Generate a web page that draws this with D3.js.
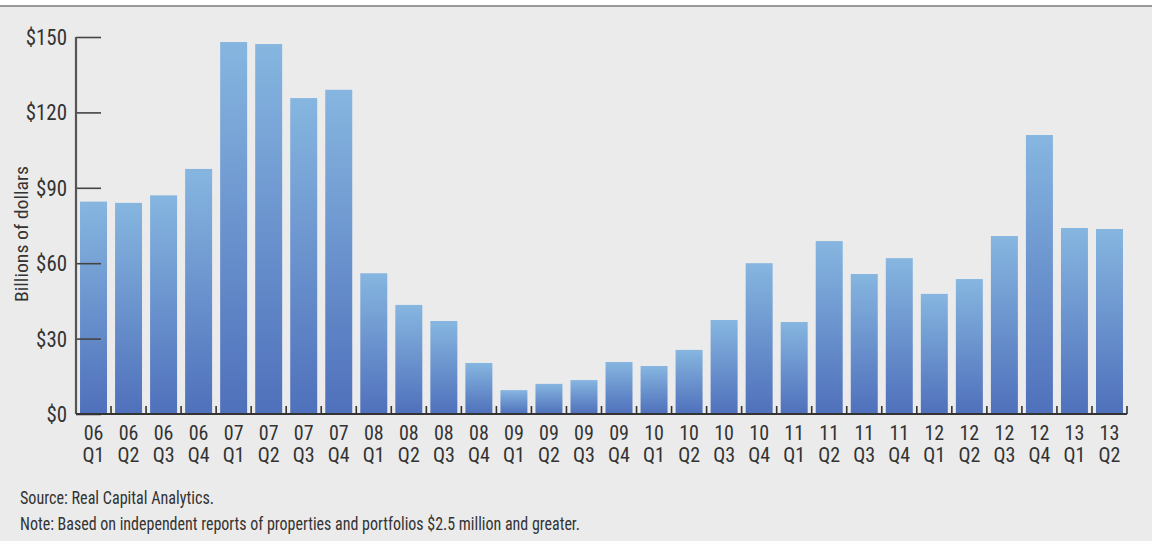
<!DOCTYPE html>
<html><head><meta charset="utf-8">
<script src="https://cdn.jsdelivr.net/npm/d3@7"></script>
<style>
html,body{margin:0;padding:0;background:#ebebeb;}
svg{display:block;}
text{font-family:"Liberation Sans Narrow","Roboto Condensed","Arial Narrow",Arial,sans-serif;fill:#333;}
</style></head>
<body>
<svg id="chart" width="1152" height="541"></svg>
<script>
const years = ["06","06","06","06","07","07","07","07","08","08","08","08","09","09","09","09","10","10","10","10","11","11","11","11","12","12","12","12","13","13"];
const quarters = ["Q1","Q2","Q3","Q4","Q1","Q2","Q3","Q4","Q1","Q2","Q3","Q4","Q1","Q2","Q3","Q4","Q1","Q2","Q3","Q4","Q1","Q2","Q3","Q4","Q1","Q2","Q3","Q4","Q1","Q2"];
const values = [84.5,84,87,97.5,148,147.2,125.7,129,56,43.4,37,20.3,9.5,12,13.5,20.7,19.1,25.5,37.4,60,36.6,68.8,55.7,62,47.8,53.7,70.8,111,74,73.6];
const yTicks = [0,30,60,90,120,150];
const yLabel = "Billions of dollars";
const notes = ["Source: Real Capital Analytics.","Note: Based on independent reports of properties and portfolios $2.5 million and greater."];

(function(){
const svg = d3.select("#chart");
const W = 1152, H = 541;
const mL = 76, mR = 1127, mT = 37, mB = 414;
svg.append("rect").attr("x",0).attr("y",0).attr("width",W).attr("height",6).attr("fill","#fff");
svg.append("line").attr("x1",0).attr("x2",W).attr("y1",6).attr("y2",6).attr("stroke","#9a9a9a").attr("stroke-width",2);

const cats = values.map((d,i)=>i);
const x = d3.scaleBand().domain(cats).range([mL,mR]).paddingInner(0.23).paddingOuter(0.115);
const y = d3.scaleLinear().domain([0,150]).range([mB,mT]);

const defs = svg.append("defs");
const g = defs.append("linearGradient").attr("id","barGrad").attr("x1",0).attr("y1",0).attr("x2",0).attr("y2",1);
g.append("stop").attr("offset","0%").attr("stop-color","#86b6e0");
g.append("stop").attr("offset","100%").attr("stop-color","#4f70bb");

svg.append("g").selectAll("rect").data(values).join("rect")
  .attr("x",(d,i)=>x(i)).attr("width",x.bandwidth())
  .attr("y",d=>y(d)).attr("height",d=>y(0)-y(d))
  .attr("fill","url(#barGrad)");

const yAxis = svg.append("g").attr("transform",`translate(${mL},0)`)
  .call(d3.axisRight(y).tickValues(yTicks).tickSize(25).tickFormat(""));
yAxis.select(".domain").remove();
yAxis.selectAll(".tick line").attr("stroke","#444").attr("stroke-width",1.6);
svg.append("line").attr("x1",mL).attr("x2",mL).attr("y1",mT).attr("y2",mB).attr("stroke","#555").attr("stroke-width",2.2);
svg.append("g").selectAll("text").data(yTicks).join("text")
  .attr("transform",d=>`translate(67,${y(d)}) scale(0.95,1)`)
  .attr("dy","0.36em").attr("text-anchor","end")
  .style("font-size","22px").text(d=>"$"+d);

svg.append("line").attr("x1",mL).attr("x2",mR).attr("y1",mB).attr("y2",mB).attr("stroke","#333").attr("stroke-width",2);
const step = x.step();
const bounds = d3.range(1,cats.length+1).map(i=>mL + i*step);
svg.append("g").selectAll("line").data(bounds).join("line")
  .attr("x1",d=>d).attr("x2",d=>d).attr("y1",mB).attr("y2",mB-8)
  .attr("stroke","#333").attr("stroke-width",1.6);
const xl = svg.append("g").selectAll("text").data(cats).join("text")
  .attr("transform",i=>`translate(${x(i)+x.bandwidth()/2},439.5)`)
  .attr("text-anchor","middle").style("font-size","20px");
xl.append("tspan").attr("x",0).attr("y",0).text(i=>years[i]);
xl.append("tspan").attr("x",0).attr("y",22.6).text(i=>quarters[i]);

svg.append("text").attr("transform","translate(28,234) rotate(-90)").attr("text-anchor","middle")
  .attr("textLength",136).attr("lengthAdjust","spacingAndGlyphs")
  .style("font-size","19px").text(yLabel);

const noteW = [194, 560];
svg.append("g").selectAll("text").data(notes).join("text")
  .attr("x",20).attr("y",(d,i)=>504+i*26)
  .attr("textLength",(d,i)=>noteW[i]).attr("lengthAdjust","spacingAndGlyphs")
  .style("font-size","18px").text(d=>d);
})();
</script>
</body></html>
